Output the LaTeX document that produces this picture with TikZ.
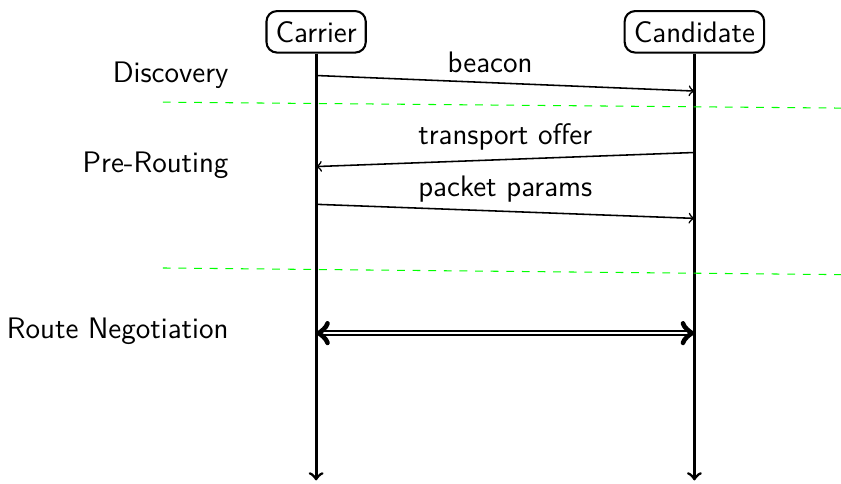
\documentclass[tikz,border=0pt]{standalone}
\usepackage{tikz}
\usetikzlibrary{calc,positioning,arrows}

\begin{document}
\begin{tikzpicture}[font=\sffamily\fontsize{11.4}{13.7}\selectfont,
		actor/.style={draw,thick,rounded corners=4pt,inner sep=3.5pt,minimum height=0.56cm},
		msg/.style={->,semithick},
		phase/.style={anchor=east},
		sep/.style={green,dashed}]
		\useasboundingbox (0,0) rectangle (11.36,6.53);

		% the two parties
		\node[actor] (car) at (4.27,6.10) {Carrier};
		\node[actor] (cand) at (9.38,6.10) {Candidate};
		\coordinate (carend) at (4.27,0.04);
		\coordinate (candend) at (9.38,0.04);
		\draw[->,line width=1.1pt] (car) -- (carend);
		\draw[->,line width=1.1pt] (cand) -- (candend);

		% phases
		\node[phase] (disc) at (3.21,5.51) {Discovery};
		\node[phase] (prer) at (3.21,4.30) {Pre-Routing};
		\node[phase] (rneg) at (3.21,2.05) {Route Negotiation};

		\coordinate (s1a) at (2.20,5.15);
		\coordinate (s1b) at (11.36,5.07);
		\coordinate (s2a) at (2.20,2.91);
		\coordinate (s2b) at (11.36,2.82);
		\draw[sep] (s1a) -- (s1b);
		\draw[sep] (s2a) -- (s2b);

		% messages
		\draw[msg] (car |- 0,5.51) -- node[above,pos=0.46] (beacon) {beacon} (cand |- 0,5.30);
		\draw[msg] (cand |- 0,4.47) -- node[above] (offer) {transport offer} (car |- 0,4.28);
		\draw[msg] (car |- 0,3.77) -- node[above] (params) {packet params} (cand |- 0,3.58);
		\draw[<->,double,thick] (car |- 0,2.03) -- (cand |- 0,2.03);
	\end{tikzpicture}
\end{document}
